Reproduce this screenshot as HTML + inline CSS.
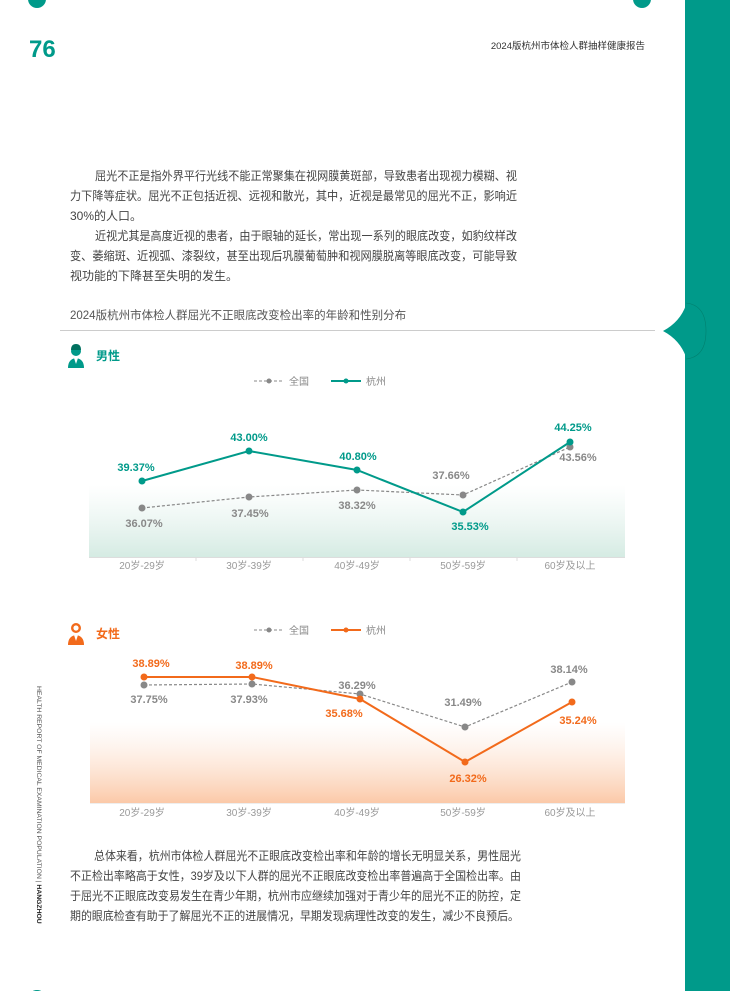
<!DOCTYPE html>
<html><head><meta charset="utf-8"><style>
html,body{margin:0;padding:0;background:#fff}
svg{display:block}
text{font-family:"Liberation Sans","Noto Sans CJK SC",sans-serif}
</style></head><body>
<svg width="730" height="991" viewBox="0 0 730 991" xmlns="http://www.w3.org/2000/svg">
<defs>
<linearGradient id="gg" x1="0" y1="0" x2="0" y2="1"><stop offset="0" stop-color="#e0f0ea" stop-opacity="0"/><stop offset="1" stop-color="#d5ebe3"/></linearGradient>
<linearGradient id="og" x1="0" y1="0" x2="0" y2="1"><stop offset="0" stop-color="#fde3d3" stop-opacity="0"/><stop offset="1" stop-color="#fbc9a8"/></linearGradient>
</defs>
<rect x="685" y="0" width="45" height="991" fill="#009a8a"/>
<path d="M663 331 Q680 322 686 305 L686 357 Q680 340 663 331Z" fill="#009a8a"/>
<path d="M686 303 Q706 305 706 331 Q706 357 686 359" fill="none" stroke="#00806f" stroke-width="0.6"/>
<circle cx="37" cy="-1" r="9" fill="#009a8a"/>
<circle cx="642" cy="-1" r="9" fill="#009a8a"/>
<circle cx="37" cy="999" r="9" fill="#009a8a"/>
<text x="29" y="57" font-size="24" font-weight="bold" fill="#009a8a">76</text>
<text x="645" y="49" font-size="9.5" fill="#333" text-anchor="end">2024版杭州市体检人群抽样健康报告</text>

<g font-size="12" fill="#444">
<text x="95" y="180" textLength="422" lengthAdjust="spacingAndGlyphs">屈光不正是指外界平行光线不能正常聚集在视网膜黄斑部，导致患者出现视力模糊、视</text>
<text x="70" y="200" textLength="447" lengthAdjust="spacingAndGlyphs">力下降等症状。屈光不正包括近视、远视和散光，其中，近视是最常见的屈光不正，影响近</text>
<text x="70" y="220">30%的人口。</text>
<text x="95" y="240" textLength="422" lengthAdjust="spacingAndGlyphs">近视尤其是高度近视的患者，由于眼轴的延长，常出现一系列的眼底改变，如豹纹样改</text>
<text x="70" y="260" textLength="447" lengthAdjust="spacingAndGlyphs">变、萎缩斑、近视弧、漆裂纹，甚至出现后巩膜葡萄肿和视网膜脱离等眼底改变，可能导致</text>
<text x="70" y="280">视功能的下降甚至失明的发生。</text>
</g>
<text x="70" y="319" font-size="11.5" fill="#555">2024版杭州市体检人群屈光不正眼底改变检出率的年龄和性别分布</text>
<line x1="60" y1="330.5" x2="655" y2="330.5" stroke="#ccc" stroke-width="1"/>

<!-- male -->
<g fill="#009a8a">
<circle cx="76" cy="351" r="5"/>
<path d="M68 368 Q68 359 76 358 Q84 359 84 368Z"/>
</g>
<path d="M71 350 Q71 344 76 344 Q81 344 81 350" fill="#00705f"/>
<path d="M74 358 L76 364 L78 358Z" fill="#fff"/>
<text x="96" y="360" font-size="12" font-weight="bold" fill="#009a8a">男性</text>
<line x1="254" y1="381" x2="284" y2="381" stroke="#888" stroke-dasharray="3,2"/>
<circle cx="269" cy="381" r="2.5" fill="#888"/>
<text x="289" y="385" font-size="10" fill="#888">全国</text>
<line x1="331" y1="381" x2="361" y2="381" stroke="#009a8a" stroke-width="2"/>
<circle cx="346" cy="381" r="2.5" fill="#009a8a"/>
<text x="366" y="385" font-size="10" fill="#888">杭州</text>
<rect x="89" y="485" width="536" height="72" fill="url(#gg)"/>
<line x1="89" y1="557.5" x2="625" y2="557.5" stroke="#ddd"/>
<g stroke="#ddd"><line x1="196" y1="557" x2="196" y2="561"/><line x1="303" y1="557" x2="303" y2="561"/><line x1="410" y1="557" x2="410" y2="561"/><line x1="517" y1="557" x2="517" y2="561"/></g>
<g font-size="10" fill="#999" text-anchor="middle">
<text x="142" y="569">20岁-29岁</text><text x="249" y="569">30岁-39岁</text><text x="357" y="569">40岁-49岁</text><text x="463" y="569">50岁-59岁</text><text x="570" y="569">60岁及以上</text>
</g>
<polyline points="142,508 249,497 357,490 463,495 570,447" fill="none" stroke="#888" stroke-width="1.2" stroke-dasharray="3,2"/>
<g fill="#888"><circle cx="142" cy="508" r="3.5"/><circle cx="249" cy="497" r="3.5"/><circle cx="357" cy="490" r="3.5"/><circle cx="463" cy="495" r="3.5"/><circle cx="570" cy="447" r="3.5"/></g>
<polyline points="142,481 249,451 357,470 463,512 570,442" fill="none" stroke="#009a8a" stroke-width="2"/>
<g fill="#009a8a"><circle cx="142" cy="481" r="3.5"/><circle cx="249" cy="451" r="3.5"/><circle cx="357" cy="470" r="3.5"/><circle cx="463" cy="512" r="3.5"/><circle cx="570" cy="442" r="3.5"/></g>
<g font-size="11" font-weight="bold" text-anchor="middle">
<g fill="#009a8a">
<text x="136" y="471">39.37%</text><text x="249" y="441">43.00%</text><text x="358" y="460">40.80%</text><text x="470" y="530">35.53%</text><text x="573" y="431">44.25%</text>
</g>
<g fill="#888">
<text x="144" y="527">36.07%</text><text x="250" y="517">37.45%</text><text x="357" y="509">38.32%</text><text x="451" y="479">37.66%</text><text x="578" y="461">43.56%</text>
</g>
</g>

<!-- female -->
<g fill="#f26a1b">
<circle cx="76" cy="628" r="5"/>
<path d="M68 645 Q68 636 76 635 Q84 636 84 645Z"/>
</g>
<circle cx="76" cy="628" r="2.6" fill="#fff"/>
<path d="M74 635 L76 641 L78 635Z" fill="#fff"/>
<text x="96" y="638" font-size="12" font-weight="bold" fill="#f26a1b">女性</text>
<line x1="254" y1="630" x2="284" y2="630" stroke="#888" stroke-dasharray="3,2"/>
<circle cx="269" cy="630" r="2.5" fill="#888"/>
<text x="289" y="634" font-size="10" fill="#888">全国</text>
<line x1="331" y1="630" x2="361" y2="630" stroke="#f26a1b" stroke-width="2"/>
<circle cx="346" cy="630" r="2.5" fill="#f26a1b"/>
<text x="366" y="634" font-size="10" fill="#888">杭州</text>
<rect x="90" y="722" width="535" height="81" fill="url(#og)"/>
<line x1="90" y1="803.5" x2="625" y2="803.5" stroke="#eee"/>
<g font-size="10" fill="#999" text-anchor="middle">
<text x="142" y="816">20岁-29岁</text><text x="249" y="816">30岁-39岁</text><text x="357" y="816">40岁-49岁</text><text x="463" y="816">50岁-59岁</text><text x="570" y="816">60岁及以上</text>
</g>
<polyline points="144,685 252,684 360,694 465,727 572,682" fill="none" stroke="#888" stroke-width="1.2" stroke-dasharray="3,2"/>
<g fill="#888"><circle cx="144" cy="685" r="3.5"/><circle cx="252" cy="684" r="3.5"/><circle cx="360" cy="694" r="3.5"/><circle cx="465" cy="727" r="3.5"/><circle cx="572" cy="682" r="3.5"/></g>
<polyline points="144,677 252,677 360,699 465,762 572,702" fill="none" stroke="#f26a1b" stroke-width="2"/>
<g fill="#f26a1b"><circle cx="144" cy="677" r="3.5"/><circle cx="252" cy="677" r="3.5"/><circle cx="360" cy="699" r="3.5"/><circle cx="465" cy="762" r="3.5"/><circle cx="572" cy="702" r="3.5"/></g>
<g font-size="11" font-weight="bold" text-anchor="middle">
<g fill="#f26a1b">
<text x="151" y="667">38.89%</text><text x="254" y="669">38.89%</text><text x="344" y="717">35.68%</text><text x="468" y="782">26.32%</text><text x="578" y="724">35.24%</text>
</g>
<g fill="#888">
<text x="149" y="703">37.75%</text><text x="249" y="703">37.93%</text><text x="357" y="689">36.29%</text><text x="463" y="706">31.49%</text><text x="569" y="673">38.14%</text>
</g>
</g>

<g font-size="12" fill="#444">
<text x="94" y="860" textLength="427" lengthAdjust="spacingAndGlyphs">总体来看，杭州市体检人群屈光不正眼底改变检出率和年龄的增长无明显关系，男性屈光</text>
<text x="70" y="880" textLength="451" lengthAdjust="spacingAndGlyphs">不正检出率略高于女性，39岁及以下人群的屈光不正眼底改变检出率普遍高于全国检出率。由</text>
<text x="70" y="900" textLength="451" lengthAdjust="spacingAndGlyphs">于屈光不正眼底改变易发生在青少年期，杭州市应继续加强对于青少年的屈光不正的防控，定</text>
<text x="70" y="920" textLength="449" lengthAdjust="spacingAndGlyphs">期的眼底检查有助于了解屈光不正的进展情况，早期发现病理性改变的发生，减少不良预后。</text>
</g>

<text transform="translate(37,686) rotate(90)" font-size="6.8" fill="#555"><tspan>HEALTH REPORT OF MEDICAL EXAMINATION POPULATION  |  </tspan><tspan font-weight="bold" fill="#222">HANGZHOU</tspan></text>
</svg>
</body></html>
